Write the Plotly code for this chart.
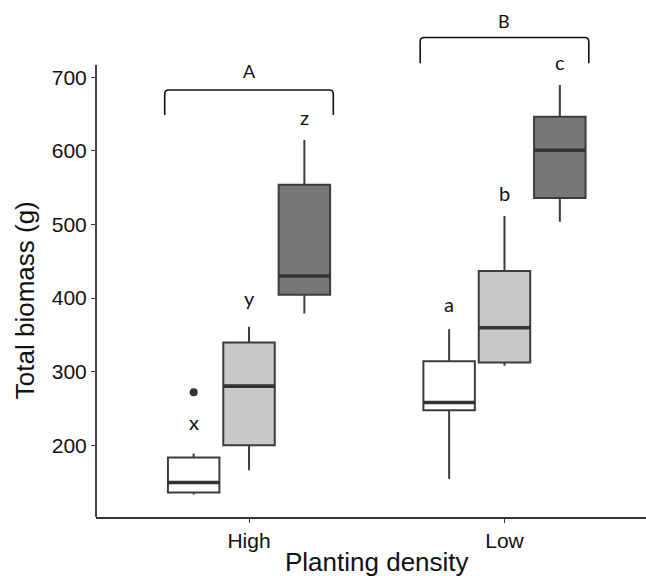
import plotly.graph_objects as go

# ---------------- data ----------------
densities = ["High", "Low"]
treatments = ["Treatment 1", "Treatment 2", "Treatment 3"]
fills = ["#ffffff", "#c8c8c8", "#777777"]

lower_fence = [[133.0, 154.0], [166.0, 308.0], [379.0, 503.6]]
q1_vals     = [[135.7, 247.6], [200.0, 312.5], [404.4, 535.9]]
medians     = [[149.3, 258.0], [280.2, 359.5], [429.8, 600.7]]
q3_vals     = [[183.3, 314.0], [339.6, 436.6], [554.0, 646.4]]
upper_fence = [[188.7, 357.7], [360.9, 511.4], [614.7, 689.5]]
outliers    = [[[272.0], [300.0]], None, None]   # Low value lies inside box -> not shown

letters = [["x", "a"], ["y", "b"], ["z", "c"]]
letter_y = [[231.7, 391.7], [399.9, 543.1], [646.4, 721.2]]

group_labels = ["A", "B"]
bracket_top = [682.6, 754.0]
bracket_end = [648.7, 719.0]
group_label_y = [708.6, 776.6]

y_ticks = [200, 300, 400, 500, 600, 700]
y_min, y_max, y_axis_top = 102.4, 790.0, 716.7

# ---------------- styling ----------------
BOXGAP = 0.35
BOXGROUPGAP = 0.07
EDGE = "#3c3c3c"
AXIS = "#333333"
slot = (1 - BOXGAP) / len(treatments)

fig = go.Figure()
for k, name in enumerate(treatments):
    box_kw = dict(
        x=densities,
        q1=q1_vals[k], median=medians[k], q3=q3_vals[k],
        lowerfence=lower_fence[k], upperfence=upper_fence[k],
        name=name, fillcolor=fills[k],
        line=dict(color=EDGE, width=2), whiskerwidth=0,
        offsetgroup=str(k), alignmentgroup="a",
        hoverinfo="skip", showlegend=False,
    )
    if outliers[k] is not None:
        box_kw.update(y=outliers[k], boxpoints="outliers", jitter=0, pointpos=0,
                      marker=dict(color="#333333", size=8, line=dict(width=0)))
    else:
        box_kw.update(boxpoints=False)
    fig.add_trace(go.Box(**box_kw))
    # thicker median bar (ggplot style)
    fig.add_trace(go.Box(
        x=densities,
        q1=medians[k], median=medians[k], q3=medians[k],
        lowerfence=medians[k], upperfence=medians[k],
        fillcolor="rgba(0,0,0,0)",
        line=dict(color="#333333", width=3.6), whiskerwidth=0,
        boxpoints=False,
        offsetgroup=str(k), alignmentgroup="a",
        hoverinfo="skip", showlegend=False,
    ))

annotations = []
for k in range(len(treatments)):
    for i in range(len(densities)):
        annotations.append(dict(
            x=i + (k - 1) * slot, y=letter_y[k][i], xref="x", yref="y",
            text=letters[k][i], showarrow=False,
            font=dict(family="Lato", size=20, color="#111111"),
            xanchor="center", yanchor="middle",
        ))

shapes = []
half = 0.33
rx, ry = 0.016, 5.5
for i in range(len(densities)):
    x0, x1 = i - half, i + half
    yt, ye = bracket_top[i], bracket_end[i]
    path = (f"M {x0},{ye} L {x0},{yt - ry} Q {x0},{yt} {x0 + rx},{yt} "
            f"L {x1 - rx},{yt} Q {x1},{yt} {x1},{yt - ry} L {x1},{ye}")
    shapes.append(dict(type="path", path=path, xref="x", yref="y",
                       line=dict(color="#111111", width=1.6)))
    annotations.append(dict(
        x=i, y=group_label_y[i], xref="x", yref="y", text=group_labels[i],
        showarrow=False, font=dict(family="Lato", size=18, color="#111111"),
        xanchor="center", yanchor="middle",
    ))

# y axis line limited to the panel
shapes.append(dict(type="line", xref="paper", yref="y", x0=0, x1=0,
                   y0=y_min, y1=y_axis_top, line=dict(color=AXIS, width=1.8)))

# axis titles
annotations.append(dict(
    x=0.5, y=0, xref="x", yref="paper", yshift=-45,
    text="Planting density", showarrow=False,
    font=dict(family="Liberation Sans", size=26, color="#111111"),
    xanchor="center", yanchor="middle",
))
annotations.append(dict(
    x=0, y=397, xref="paper", yref="y", xshift=-71,
    text="Total biomass (g)", showarrow=False, textangle=-90,
    font=dict(family="Liberation Sans", size=26, color="#111111"),
    xanchor="center", yanchor="middle",
))

fig.update_layout(
    width=646, height=576,
    margin=dict(l=96, r=0, t=11, b=59),
    paper_bgcolor="white", plot_bgcolor="white",
    boxmode="group", boxgap=BOXGAP, boxgroupgap=BOXGROUPGAP,
    showlegend=False,
    shapes=shapes, annotations=annotations,
    xaxis=dict(
        type="category", categoryorder="array", categoryarray=densities,
        range=[-0.599, 1.554], showgrid=False, zeroline=False,
        showline=True, linecolor=AXIS, linewidth=1.8,
        ticks="outside", ticklen=4, tickcolor=AXIS, tickwidth=1,
        tickfont=dict(family="Liberation Sans", size=21, color="#111111"),
    ),
    yaxis=dict(
        range=[y_min, y_max], showgrid=False, zeroline=False, showline=False,
        tickvals=y_ticks, ticks="outside", ticklen=4, tickcolor=AXIS, tickwidth=1,
        tickfont=dict(family="Liberation Sans", size=21, color="#111111"),
    ),
)

fig.write_html("out.html")
